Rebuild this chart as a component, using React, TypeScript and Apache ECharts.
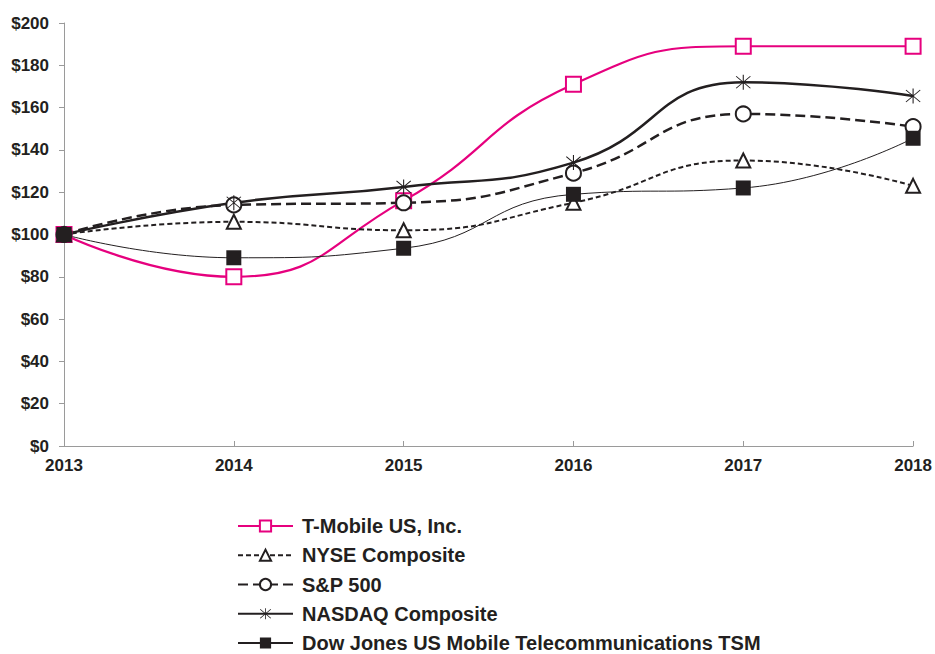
import React, { useEffect, useRef } from "react";
import * as echarts from "echarts";

const years = ["2013", "2014", "2015", "2016", "2017", "2018"];
const tmobile = [100, 80, 116, 171, 189, 189];
const nyse = [100, 106, 102, 115, 135, 123];
const sp500 = [100, 114, 115, 129, 157, 151];
const nasdaq = [100, 115, 122.5, 134, 172, 165.5];
const dowjones = [100, 89, 93.5, 119, 122, 145.5];
const names = [
  "T-Mobile US, Inc.",
  "NYSE Composite",
  "S&P 500",
  "NASDAQ Composite",
  "Dow Jones US Mobile Telecommunications TSM",
];

const PINK = "#e6007e";
const DARK = "#231f20";
const FONT = "'Liberation Sans', Arial, sans-serif";
const ASTERISK =
  "path://M9.4 0 L10.6 0 L10.6 20 L9.4 20 Z M1.6 2.4 L2.4 1.6 L18.4 17.6 L17.6 18.4 Z M17.6 1.6 L18.4 2.4 L2.4 18.4 L1.6 17.6 Z";

export default function App() {
  const ref = useRef<HTMLDivElement>(null);
  useEffect(() => {
    if (!ref.current) return;
    const chart = echarts.init(ref.current, undefined, { renderer: "svg" });
    chart.setOption({
      animation: false,
      backgroundColor: "#ffffff",
      grid: { left: 64, right: 20, top: 23, bottom: 208, containLabel: false },
      xAxis: {
        type: "category",
        data: years,
        boundaryGap: false,
        axisLine: { lineStyle: { color: "#9a9a9a", width: 1 } },
        axisTick: { inside: true, length: 5, lineStyle: { color: "#9a9a9a" } },
        axisLabel: {
          color: DARK,
          fontFamily: FONT,
          fontWeight: "bold",
          fontSize: 17,
          margin: 11,
        },
        splitLine: { show: false },
      },
      yAxis: {
        type: "value",
        min: 0,
        max: 200,
        interval: 20,
        axisLine: { show: true, lineStyle: { color: "#9a9a9a", width: 1 } },
        axisTick: { show: true, length: 5, lineStyle: { color: "#9a9a9a" } },
        axisLabel: {
          color: DARK,
          fontFamily: FONT,
          fontWeight: "bold",
          fontSize: 17,
          margin: 15,
          formatter: (v: number) => "$" + v,
        },
        splitLine: { show: false },
      },
      legend: {
        orient: "vertical",
        left: 237,
        top: 516,
        height: 200,
        padding: 0,
        itemWidth: 55,
        itemHeight: 14,
        itemGap: 9.25,
        data: names,
        textStyle: {
          color: DARK,
          fontFamily: FONT,
          fontWeight: "bold",
          fontSize: 20,
          lineHeight: 20,
          padding: [0, 0, 0, 4],
        },
      },
      series: [
        {
          name: names[0],
          type: "line",
          data: tmobile,
          smooth: 0.5,
          symbol: "emptyRect",
          symbolSize: 15,
          lineStyle: { color: PINK, width: 2.2 },
          itemStyle: { color: PINK, borderWidth: 1.2 },
        },
        {
          name: names[1],
          type: "line",
          data: nyse,
          smooth: 0.5,
          symbol: "emptyTriangle",
          symbolSize: 14,
          lineStyle: { color: DARK, width: 2, type: [5, 3] },
          itemStyle: { color: DARK, borderWidth: 1.2 },
        },
        {
          name: names[2],
          type: "line",
          data: sp500,
          smooth: 0.5,
          symbol: "emptyCircle",
          symbolSize: 15,
          lineStyle: { color: DARK, width: 2.5, type: [10, 5] },
          itemStyle: { color: DARK, borderWidth: 1.2 },
        },
        {
          name: names[3],
          type: "line",
          data: nasdaq,
          smooth: 0.5,
          symbol: ASTERISK,
          symbolSize: 15,
          lineStyle: { color: DARK, width: 2.5 },
          itemStyle: { color: DARK },
        },
        {
          name: names[4],
          type: "line",
          data: dowjones,
          smooth: 0.5,
          symbol: "rect",
          symbolSize: 15,
          lineStyle: { color: DARK, width: 1 },
          itemStyle: { color: DARK },
        },
      ],
    });
    return () => chart.dispose();
  }, []);
  return (
    <div
      ref={ref}
      style={{ position: "fixed", left: 0, top: 0, width: 935, height: 654 }}
    />
  );
}
